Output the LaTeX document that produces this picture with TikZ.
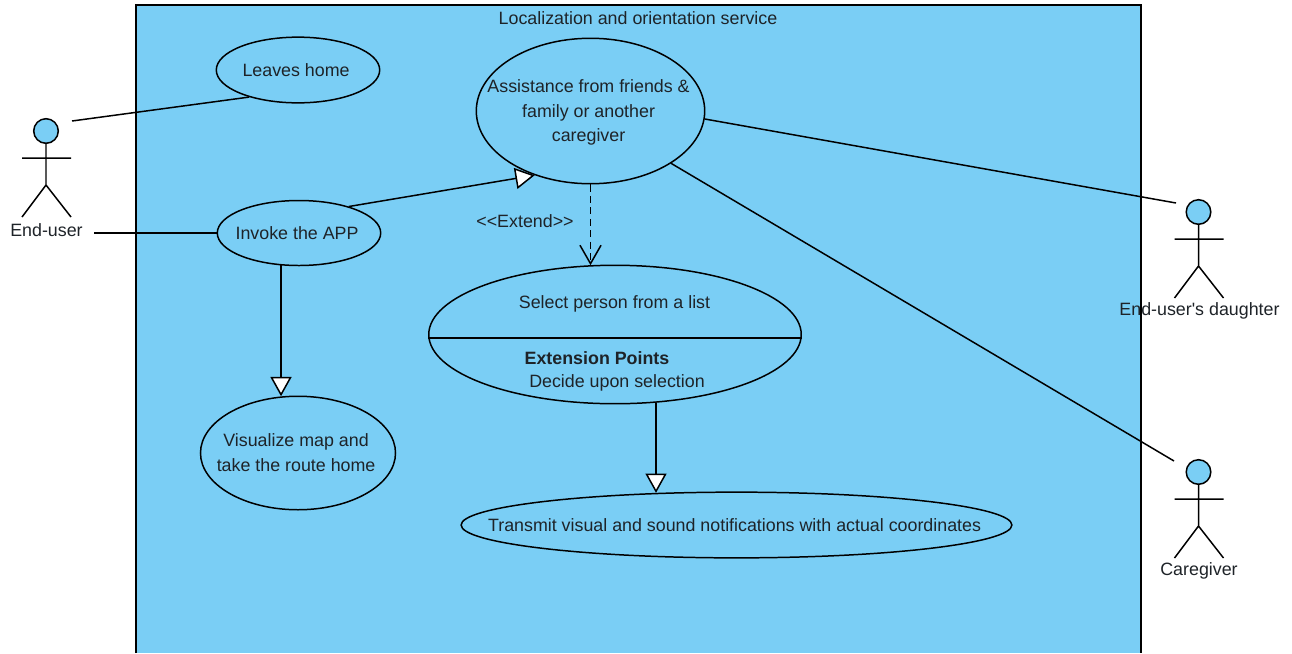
\documentclass[tikz,border=0pt]{standalone}
\usepackage{fontspec}
\setmainfont{Liberation Sans}
\usetikzlibrary{arrows.meta,shapes.geometric}
\definecolor{ucblue}{RGB}{122,206,245}
\definecolor{uctext}{RGB}{30,35,40}
\newcommand{\uclines}[1]{\makebox[0pt]{\hspace*{-2.2pt}\raisebox{-0.7pt}[\height][\depth]{\begin{tabular}{@{}c@{}}#1\end{tabular}}}}
\tikzset{
	usecase/.style={ellipse,draw=black,fill=ucblue,inner sep=0pt,text=uctext,minimum width=#1},
	uclabel/.style={inner sep=0pt,text=uctext},
	gen/.style={-{Triangle[open,fill=white,length=11pt,width=12pt]}},
	ext/.style={dash pattern=on 4pt off 2.5pt,-{Straight Barb[length=10.5pt,width=12pt]}},
	actorfig/.pic={
		\node[circle,draw=black,fill=ucblue,minimum size=14pt,inner sep=0pt] (-head) at (0,0) {};
		\draw (-head) -- (0,54) (-24,27) -- (25,27) (-24,86) -- (0,54) -- (25,86);
	}
}
\begin{document}
\begin{tikzpicture}[x=0.02cm,y=-0.02cm,line width=0.85pt,font=\fontsize{10.15}{13.85}\selectfont]
		\useasboundingbox (0,0) rectangle (1292,653);
		\draw[fill=ucblue,line width=0.9pt] (136,653) -- (136,5) -- (1141,5) -- (1141,653);
		\node[uclabel] (service) at (638,18) {Localization and orientation service};

		\pic (enduser) at (46,131) {actorfig};
		\pic (daughter) at (1198.5,212) {actorfig};
		\pic (caregiver) at (1198.5,472) {actorfig};
		\node[uclabel] (enduserlabel) at (46.5,230.5) {End-user};
		\node[uclabel] (daughterlabel) at (1199.5,311) {End-user\textquotesingle s daughter};
		\node[uclabel] (caregiverlabel) at (1199,571) {Caregiver};
		\coordinate (endusertop) at (72,121);
		\coordinate (enduserside) at (94,233);
		\coordinate (daughterend) at (1176,203);
		\coordinate (caregiverend) at (1174,461);

		\node[usecase=93pt,minimum height=37.4pt] (leaves) at (298,70) {\uclines{Leaves home}};
		\node[usecase=93pt,minimum height=37pt] (invoke) at (299,233) {\uclines{Invoke the APP}}
			edge[-] (enduserside);
		\node[usecase=130pt,minimum height=82.8pt] (assistance) at (590.5,111) {\uclines{Assistance from friends \&\\family or another\\caregiver}};
		\node[usecase=111pt,minimum height=64.6pt] (visualize) at (298,453) {\uclines{Visualize map and\\take the route home}};
		\node[usecase=212pt,minimum height=78.8pt] (select) at (615,334.5) {};
		\node[usecase=313.5pt,minimum height=37.4pt] (transmit) at (736.5,525) {\uclines{Transmit visual and sound notifications with actual coordinates}};

		\node[uclabel] (selecttext) at (614.5,304) {Select person from a list};
		\node[uclabel,font=\fontsize{10.15}{13.85}\selectfont\bfseries] (extpoints) at (597,358) {Extension Points};
		\node[uclabel] (extdecide) at (617,382.5) {Decide upon selection};
		\draw (select.181.07) -- (select.-1.07);
		\node[uclabel] (extendlabel) at (525,221) {<{}<Extend>{}>};

		\draw (endusertop) -- (leaves.209);
		\draw[gen] (invoke.28.4) -- (assistance.229.2);
		\draw[gen] (invoke.241.9) -- (invoke.241.9 |- visualize.105.9);
		\draw[ext] (assistance.south) -- (assistance.south |- select.110);
		\draw[gen] (select.-59.5) -- (select.-59.5 |- transmit.158.9);
		\draw (assistance.-4) -- (daughterend);
		\draw (assistance.-33) -- (caregiverend);
	\end{tikzpicture}
\end{document}
